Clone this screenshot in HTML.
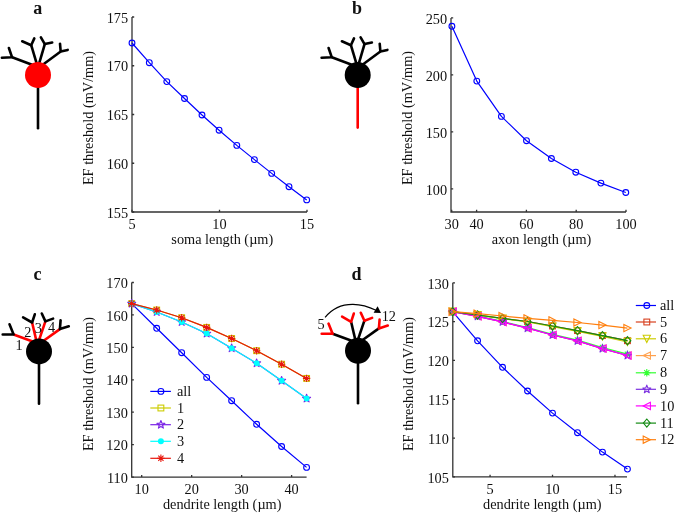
<!DOCTYPE html><html><head><meta charset="utf-8"><style>html,body{margin:0;padding:0;background:#fff}svg{display:block;will-change:transform}text{font-family:"Liberation Serif",serif;font-size:14.3px;fill:#111}.pl{font-weight:bold;font-size:18px}</style></head><body>
<svg width="675" height="514" viewBox="0 0 675 514">
<text class="pl" x="37.7" y="13.9" text-anchor="middle">a</text>
<text class="pl" x="356.9" y="13.9" text-anchor="middle">b</text>
<text class="pl" x="37.4" y="279.5" text-anchor="middle">c</text>
<text class="pl" x="356.6" y="279.5" text-anchor="middle">d</text>
<path d="M35.38 66.06L12.1 57.3" stroke="#000" stroke-width="2.6" stroke-linecap="butt"/>
<path d="M1.9 57.8L12.1 57.3L8.9 48" fill="none" stroke="#000" stroke-width="2.6" stroke-linejoin="round" stroke-linecap="round"/>
<path d="M37.84 67.29L31.2 45.2" stroke="#000" stroke-width="2.6" stroke-linecap="butt"/>
<path d="M22.2 41.3L31.2 45.2L34.3 38.4" fill="none" stroke="#000" stroke-width="2.6" stroke-linejoin="round" stroke-linecap="round"/>
<path d="M37.99 67.3L44.8 44.1" stroke="#000" stroke-width="2.6" stroke-linecap="butt"/>
<path d="M40.9 37.4L44.8 44.1L52.2 42.5" fill="none" stroke="#000" stroke-width="2.6" stroke-linejoin="round" stroke-linecap="round"/>
<path d="M40.37 66.46L60.7 51.5" stroke="#000" stroke-width="2.6" stroke-linecap="butt"/>
<path d="M67.7 49.9L60.7 51.5L60 43.7" fill="none" stroke="#000" stroke-width="2.6" stroke-linejoin="round" stroke-linecap="round"/>
<path d="M38 75V128.2" stroke="#000" stroke-width="2.6" stroke-linecap="round"/>
<circle cx="38" cy="75" r="13" fill="#f00"/>
<path d="M355.08 66.06L331.8 57.3" stroke="#000" stroke-width="2.6" stroke-linecap="butt"/>
<path d="M321.6 57.8L331.8 57.3L328.6 48" fill="none" stroke="#000" stroke-width="2.6" stroke-linejoin="round" stroke-linecap="round"/>
<path d="M357.54 67.29L350.9 45.2" stroke="#000" stroke-width="2.6" stroke-linecap="butt"/>
<path d="M341.9 41.3L350.9 45.2L354 38.4" fill="none" stroke="#000" stroke-width="2.6" stroke-linejoin="round" stroke-linecap="round"/>
<path d="M357.69 67.3L364.5 44.1" stroke="#000" stroke-width="2.6" stroke-linecap="butt"/>
<path d="M360.6 37.4L364.5 44.1L371.9 42.5" fill="none" stroke="#000" stroke-width="2.6" stroke-linejoin="round" stroke-linecap="round"/>
<path d="M360.07 66.46L380.4 51.5" stroke="#000" stroke-width="2.6" stroke-linecap="butt"/>
<path d="M387.4 49.9L380.4 51.5L379.7 43.7" fill="none" stroke="#000" stroke-width="2.6" stroke-linejoin="round" stroke-linecap="round"/>
<path d="M357.7 75V127.6" stroke="#f00" stroke-width="2.6" stroke-linecap="round"/>
<circle cx="357.7" cy="75" r="13" fill="#000"/>
<path d="M34 341.91L13.6 334.5" stroke="#f00" stroke-width="2.6" stroke-linecap="butt"/>
<path d="M2.7 334.5L13.6 334.5L9.5 324.3" fill="none" stroke="#000" stroke-width="2.6" stroke-linejoin="round" stroke-linecap="round"/>
<path d="M36.84 342.77L32.1 322.5" stroke="#f00" stroke-width="2.6" stroke-linecap="butt"/>
<path d="M23.1 317.4L32.1 322.5L34.8 314.3" fill="none" stroke="#000" stroke-width="2.6" stroke-linejoin="round" stroke-linecap="round"/>
<path d="M38.19 342.63L45.4 321.4" stroke="#f00" stroke-width="2.6" stroke-linecap="butt"/>
<path d="M41.8 313.5L45.4 321.4L53.1 318.6" fill="none" stroke="#000" stroke-width="2.6" stroke-linejoin="round" stroke-linecap="round"/>
<path d="M41.53 342.2L59.9 329.1" stroke="#f00" stroke-width="2.6" stroke-linecap="butt"/>
<path d="M68.8 326.3L59.9 329.1L60.6 320.2" fill="none" stroke="#000" stroke-width="2.6" stroke-linejoin="round" stroke-linecap="round"/>
<path d="M39 351.4V403.8" stroke="#000" stroke-width="2.6" stroke-linecap="round"/>
<circle cx="39" cy="351.4" r="13" fill="#000"/>
<path d="M353 341.21L332.6 333.8" stroke="#000" stroke-width="2.6" stroke-linecap="butt"/>
<path d="M321.7 333.8L332.6 333.8L328.5 323.6" fill="none" stroke="#f00" stroke-width="2.6" stroke-linejoin="round" stroke-linecap="round"/>
<path d="M355.84 342.07L351.1 321.8" stroke="#000" stroke-width="2.6" stroke-linecap="butt"/>
<path d="M342.1 316.7L351.1 321.8L353.8 313.6" fill="none" stroke="#f00" stroke-width="2.6" stroke-linejoin="round" stroke-linecap="round"/>
<path d="M357.19 341.93L364.4 320.7" stroke="#000" stroke-width="2.6" stroke-linecap="butt"/>
<path d="M360.8 312.8L364.4 320.7L372.1 317.9" fill="none" stroke="#f00" stroke-width="2.6" stroke-linejoin="round" stroke-linecap="round"/>
<path d="M360.53 341.5L378.9 328.4" stroke="#000" stroke-width="2.6" stroke-linecap="butt"/>
<path d="M387.8 325.6L378.9 328.4L379.6 319.5" fill="none" stroke="#f00" stroke-width="2.6" stroke-linejoin="round" stroke-linecap="round"/>
<path d="M358 350.7V403.3" stroke="#000" stroke-width="2.6" stroke-linecap="round"/>
<circle cx="358" cy="350.7" r="13" fill="#000"/>
<path d="M132 17V212H307" fill="none" stroke="#333" stroke-width="1.3"/>
<path d="M132 212v-2.2M219.5 212v-2.2M307 212v-2.2M132 212h2.2M132 163.25h2.2M132 114.5h2.2M132 65.75h2.2M132 17h2.2" stroke="#333" stroke-width="1.3"/>
<text x="132" y="229.2" text-anchor="middle">5</text>
<text x="219.5" y="229.2" text-anchor="middle">10</text>
<text x="307" y="229.2" text-anchor="middle">15</text>
<text x="128.1" y="217.7" text-anchor="end">155</text>
<text x="128.1" y="168.95" text-anchor="end">160</text>
<text x="128.1" y="120.2" text-anchor="end">165</text>
<text x="128.1" y="71.45" text-anchor="end">170</text>
<text x="128.1" y="22.7" text-anchor="end">175</text>
<text x="222.3" y="243.8" text-anchor="middle">soma length (µm)</text>
<text transform="translate(93.2 118) rotate(-90)" text-anchor="middle">EF threshold (mV/mm)</text>
<path d="M132 43 L149.3 62.7 L166.8 81.6 L184.5 98.5 L202 115 L219.1 130.2 L236.8 145.4 L254.4 159.6 L271.7 173.4 L289 186.7 L306.7 199.9" fill="none" stroke="#0000ff" stroke-width="1.2" stroke-linejoin="round"/>
<circle cx="132" cy="43" r="2.9" fill="none" stroke="#0000ff" stroke-width="1.1"/>
<circle cx="149.3" cy="62.7" r="2.9" fill="none" stroke="#0000ff" stroke-width="1.1"/>
<circle cx="166.8" cy="81.6" r="2.9" fill="none" stroke="#0000ff" stroke-width="1.1"/>
<circle cx="184.5" cy="98.5" r="2.9" fill="none" stroke="#0000ff" stroke-width="1.1"/>
<circle cx="202" cy="115" r="2.9" fill="none" stroke="#0000ff" stroke-width="1.1"/>
<circle cx="219.1" cy="130.2" r="2.9" fill="none" stroke="#0000ff" stroke-width="1.1"/>
<circle cx="236.8" cy="145.4" r="2.9" fill="none" stroke="#0000ff" stroke-width="1.1"/>
<circle cx="254.4" cy="159.6" r="2.9" fill="none" stroke="#0000ff" stroke-width="1.1"/>
<circle cx="271.7" cy="173.4" r="2.9" fill="none" stroke="#0000ff" stroke-width="1.1"/>
<circle cx="289" cy="186.7" r="2.9" fill="none" stroke="#0000ff" stroke-width="1.1"/>
<circle cx="306.7" cy="199.9" r="2.9" fill="none" stroke="#0000ff" stroke-width="1.1"/>
<path d="M451 17.9V212H626" fill="none" stroke="#333" stroke-width="1.3"/>
<path d="M451.7 212v-2.2M476.6 212v-2.2M526.4 212v-2.2M576.2 212v-2.2M626 212v-2.2M451 188.9h2.2M451 131.9h2.2M451 74.9h2.2M451 17.9h2.2" stroke="#333" stroke-width="1.3"/>
<text x="451.7" y="229.2" text-anchor="middle">30</text>
<text x="476.6" y="229.2" text-anchor="middle">40</text>
<text x="526.4" y="229.2" text-anchor="middle">60</text>
<text x="576.2" y="229.2" text-anchor="middle">80</text>
<text x="626" y="229.2" text-anchor="middle">100</text>
<text x="447.1" y="194.6" text-anchor="end">100</text>
<text x="447.1" y="137.6" text-anchor="end">150</text>
<text x="447.1" y="80.6" text-anchor="end">200</text>
<text x="447.1" y="23.6" text-anchor="end">250</text>
<text x="541.5" y="243.8" text-anchor="middle">axon length (µm)</text>
<text transform="translate(412.3 118) rotate(-90)" text-anchor="middle">EF threshold (mV/mm)</text>
<path d="M451.9 26.3 L476.8 81.1 L501.4 116.4 L526.5 140.7 L551.4 158.5 L575.8 172.2 L600.9 183.1 L625.8 192.5" fill="none" stroke="#0000ff" stroke-width="1.2" stroke-linejoin="round"/>
<circle cx="451.9" cy="26.3" r="2.9" fill="none" stroke="#0000ff" stroke-width="1.1"/>
<circle cx="476.8" cy="81.1" r="2.9" fill="none" stroke="#0000ff" stroke-width="1.1"/>
<circle cx="501.4" cy="116.4" r="2.9" fill="none" stroke="#0000ff" stroke-width="1.1"/>
<circle cx="526.5" cy="140.7" r="2.9" fill="none" stroke="#0000ff" stroke-width="1.1"/>
<circle cx="551.4" cy="158.5" r="2.9" fill="none" stroke="#0000ff" stroke-width="1.1"/>
<circle cx="575.8" cy="172.2" r="2.9" fill="none" stroke="#0000ff" stroke-width="1.1"/>
<circle cx="600.9" cy="183.1" r="2.9" fill="none" stroke="#0000ff" stroke-width="1.1"/>
<circle cx="625.8" cy="192.5" r="2.9" fill="none" stroke="#0000ff" stroke-width="1.1"/>
<path d="M131.7 282.5V477.1H306.6" fill="none" stroke="#333" stroke-width="1.3"/>
<path d="M141.69 477.1v-2.2M191.66 477.1v-2.2M241.63 477.1v-2.2M291.6 477.1v-2.2M131.7 477.08h2.2M131.7 444.65h2.2M131.7 412.22h2.2M131.7 379.79h2.2M131.7 347.36h2.2M131.7 314.93h2.2M131.7 282.5h2.2" stroke="#333" stroke-width="1.3"/>
<text x="141.69" y="494.3" text-anchor="middle">10</text>
<text x="191.66" y="494.3" text-anchor="middle">20</text>
<text x="241.63" y="494.3" text-anchor="middle">30</text>
<text x="291.6" y="494.3" text-anchor="middle">40</text>
<text x="127.8" y="482.78" text-anchor="end">110</text>
<text x="127.8" y="450.35" text-anchor="end">120</text>
<text x="127.8" y="417.92" text-anchor="end">130</text>
<text x="127.8" y="385.49" text-anchor="end">140</text>
<text x="127.8" y="353.06" text-anchor="end">150</text>
<text x="127.8" y="320.63" text-anchor="end">160</text>
<text x="127.8" y="288.2" text-anchor="end">170</text>
<text x="222.2" y="509.2" text-anchor="middle">dendrite length (µm)</text>
<text transform="translate(93.2 384) rotate(-90)" text-anchor="middle">EF threshold (mV/mm)</text>
<path d="M131.7 303.6 L156.69 328.3 L181.67 352.7 L206.65 377.4 L231.64 400.7 L256.62 424.3 L281.61 446.5 L306.59 467.4" fill="none" stroke="#0000ff" stroke-width="1.2" stroke-linejoin="round"/>
<circle cx="131.7" cy="303.6" r="2.9" fill="none" stroke="#0000ff" stroke-width="1.1"/>
<circle cx="156.69" cy="328.3" r="2.9" fill="none" stroke="#0000ff" stroke-width="1.1"/>
<circle cx="181.67" cy="352.7" r="2.9" fill="none" stroke="#0000ff" stroke-width="1.1"/>
<circle cx="206.65" cy="377.4" r="2.9" fill="none" stroke="#0000ff" stroke-width="1.1"/>
<circle cx="231.64" cy="400.7" r="2.9" fill="none" stroke="#0000ff" stroke-width="1.1"/>
<circle cx="256.62" cy="424.3" r="2.9" fill="none" stroke="#0000ff" stroke-width="1.1"/>
<circle cx="281.61" cy="446.5" r="2.9" fill="none" stroke="#0000ff" stroke-width="1.1"/>
<circle cx="306.59" cy="467.4" r="2.9" fill="none" stroke="#0000ff" stroke-width="1.1"/>
<path d="M131.7 303.6 L156.69 310 L181.67 317.7 L206.65 327.4 L231.64 338.5 L256.62 350.7 L281.61 364.2 L306.59 378.4" fill="none" stroke="#cccc00" stroke-width="1.2" stroke-linejoin="round"/>
<rect x="128.8" y="300.7" width="5.8" height="5.8" fill="none" stroke="#cccc00" stroke-width="1.1"/>
<rect x="153.78" y="307.1" width="5.8" height="5.8" fill="none" stroke="#cccc00" stroke-width="1.1"/>
<rect x="178.77" y="314.8" width="5.8" height="5.8" fill="none" stroke="#cccc00" stroke-width="1.1"/>
<rect x="203.75" y="324.5" width="5.8" height="5.8" fill="none" stroke="#cccc00" stroke-width="1.1"/>
<rect x="228.74" y="335.6" width="5.8" height="5.8" fill="none" stroke="#cccc00" stroke-width="1.1"/>
<rect x="253.72" y="347.8" width="5.8" height="5.8" fill="none" stroke="#cccc00" stroke-width="1.1"/>
<rect x="278.71" y="361.3" width="5.8" height="5.8" fill="none" stroke="#cccc00" stroke-width="1.1"/>
<rect x="303.69" y="375.5" width="5.8" height="5.8" fill="none" stroke="#cccc00" stroke-width="1.1"/>
<path d="M131.7 303.6 L156.69 312 L181.67 322 L206.65 333.5 L231.64 348.2 L256.62 363.2 L281.61 380.7 L306.59 398.5" fill="none" stroke="#7a22e6" stroke-width="1.2" stroke-linejoin="round"/>
<polygon points="131.7,299.4 132.74,302.17 135.69,302.3 133.38,304.15 134.17,307 131.7,305.36 129.23,307 130.02,304.15 127.71,302.3 130.66,302.17" fill="none" stroke="#7a22e6" stroke-width="1.1" stroke-linejoin="round"/>
<polygon points="156.69,307.8 157.72,310.57 160.68,310.7 158.36,312.55 159.15,315.4 156.69,313.76 154.22,315.4 155.01,312.55 152.69,310.7 155.65,310.57" fill="none" stroke="#7a22e6" stroke-width="1.1" stroke-linejoin="round"/>
<polygon points="181.67,317.8 182.71,320.57 185.66,320.7 183.35,322.55 184.14,325.4 181.67,323.76 179.2,325.4 179.99,322.55 177.68,320.7 180.63,320.57" fill="none" stroke="#7a22e6" stroke-width="1.1" stroke-linejoin="round"/>
<polygon points="206.65,329.3 207.69,332.07 210.65,332.2 208.33,334.05 209.12,336.9 206.65,335.26 204.19,336.9 204.98,334.05 202.66,332.2 205.62,332.07" fill="none" stroke="#7a22e6" stroke-width="1.1" stroke-linejoin="round"/>
<polygon points="231.64,344 232.68,346.77 235.63,346.9 233.32,348.75 234.11,351.6 231.64,349.96 229.17,351.6 229.96,348.75 227.65,346.9 230.6,346.77" fill="none" stroke="#7a22e6" stroke-width="1.1" stroke-linejoin="round"/>
<polygon points="256.62,359 257.66,361.77 260.62,361.9 258.3,363.75 259.09,366.6 256.62,364.96 254.16,366.6 254.95,363.75 252.63,361.9 255.59,361.77" fill="none" stroke="#7a22e6" stroke-width="1.1" stroke-linejoin="round"/>
<polygon points="281.61,376.5 282.65,379.27 285.6,379.4 283.29,381.25 284.08,384.1 281.61,382.46 279.14,384.1 279.93,381.25 277.62,379.4 280.57,379.27" fill="none" stroke="#7a22e6" stroke-width="1.1" stroke-linejoin="round"/>
<polygon points="306.59,394.3 307.63,397.07 310.59,397.2 308.27,399.05 309.06,401.9 306.59,400.26 304.13,401.9 304.92,399.05 302.6,397.2 305.56,397.07" fill="none" stroke="#7a22e6" stroke-width="1.1" stroke-linejoin="round"/>
<path d="M131.7 303.6 L156.69 312 L181.67 322 L206.65 333.5 L231.64 348.2 L256.62 363.2 L281.61 380.7 L306.59 398.5" fill="none" stroke="#00ffff" stroke-width="1.2" stroke-linejoin="round"/>
<circle cx="131.7" cy="303.6" r="3" fill="#00ffff"/>
<circle cx="156.69" cy="312" r="3" fill="#00ffff"/>
<circle cx="181.67" cy="322" r="3" fill="#00ffff"/>
<circle cx="206.65" cy="333.5" r="3" fill="#00ffff"/>
<circle cx="231.64" cy="348.2" r="3" fill="#00ffff"/>
<circle cx="256.62" cy="363.2" r="3" fill="#00ffff"/>
<circle cx="281.61" cy="380.7" r="3" fill="#00ffff"/>
<circle cx="306.59" cy="398.5" r="3" fill="#00ffff"/>
<path d="M131.7 303.6 L156.69 310 L181.67 317.7 L206.65 327.4 L231.64 338.5 L256.62 350.7 L281.61 364.2 L306.59 378.4" fill="none" stroke="#e8160c" stroke-width="1.2" stroke-linejoin="round"/>
<path d="M128 303.6L135.4 303.6M129.08 300.98L134.32 306.22M131.7 299.9L131.7 307.3M134.32 300.98L129.08 306.22" stroke="#e8160c" stroke-width="1.1"/>
<path d="M152.99 310L160.38 310M154.07 307.38L159.3 312.62M156.69 306.3L156.69 313.7M159.3 307.38L154.07 312.62" stroke="#e8160c" stroke-width="1.1"/>
<path d="M177.97 317.7L185.37 317.7M179.05 315.08L184.29 320.32M181.67 314L181.67 321.4M184.29 315.08L179.05 320.32" stroke="#e8160c" stroke-width="1.1"/>
<path d="M202.95 327.4L210.35 327.4M204.04 324.78L209.27 330.02M206.65 323.7L206.65 331.1M209.27 324.78L204.04 330.02" stroke="#e8160c" stroke-width="1.1"/>
<path d="M227.94 338.5L235.34 338.5M229.02 335.88L234.26 341.12M231.64 334.8L231.64 342.2M234.26 335.88L229.02 341.12" stroke="#e8160c" stroke-width="1.1"/>
<path d="M252.93 350.7L260.32 350.7M254.01 348.08L259.24 353.32M256.62 347L256.62 354.4M259.24 348.08L254.01 353.32" stroke="#e8160c" stroke-width="1.1"/>
<path d="M277.91 364.2L285.31 364.2M278.99 361.58L284.23 366.82M281.61 360.5L281.61 367.9M284.23 361.58L278.99 366.82" stroke="#e8160c" stroke-width="1.1"/>
<path d="M302.89 378.4L310.29 378.4M303.98 375.78L309.21 381.02M306.59 374.7L306.59 382.1M309.21 375.78L303.98 381.02" stroke="#e8160c" stroke-width="1.1"/>
<path d="M150.3 391.4H170.9" stroke="#0000ff" stroke-width="1.2"/>
<circle cx="160.9" cy="391.4" r="2.9" fill="none" stroke="#0000ff" stroke-width="1.1"/>
<text x="176.9" y="396">all</text>
<path d="M150.3 408H170.9" stroke="#cccc00" stroke-width="1.2"/>
<rect x="158" y="405.1" width="5.8" height="5.8" fill="none" stroke="#cccc00" stroke-width="1.1"/>
<text x="176.9" y="412.6">1</text>
<path d="M150.3 424.7H170.9" stroke="#7a22e6" stroke-width="1.2"/>
<polygon points="160.9,420.5 161.94,423.27 164.89,423.4 162.58,425.25 163.37,428.1 160.9,426.46 158.43,428.1 159.22,425.25 156.91,423.4 159.86,423.27" fill="none" stroke="#7a22e6" stroke-width="1.1" stroke-linejoin="round"/>
<text x="176.9" y="429.3">2</text>
<path d="M150.3 441.3H170.9" stroke="#00ffff" stroke-width="1.2"/>
<circle cx="160.9" cy="441.3" r="3" fill="#00ffff"/>
<text x="176.9" y="445.9">3</text>
<path d="M150.3 458.3H170.9" stroke="#e8160c" stroke-width="1.2"/>
<path d="M157.2 458.3L164.6 458.3M158.28 455.68L163.52 460.92M160.9 454.6L160.9 462M163.52 455.68L158.28 460.92" stroke="#e8160c" stroke-width="1.1"/>
<text x="176.9" y="462.9">4</text>
<path d="M452.8 282.8V476.9H627" fill="none" stroke="#333" stroke-width="1.3"/>
<path d="M490.07 476.9v-2.2M552.52 476.9v-2.2M614.97 476.9v-2.2M452.8 476.9h2.2M452.8 438.08h2.2M452.8 399.26h2.2M452.8 360.44h2.2M452.8 321.62h2.2M452.8 282.8h2.2" stroke="#333" stroke-width="1.3"/>
<text x="490.07" y="494.1" text-anchor="middle">5</text>
<text x="552.52" y="494.1" text-anchor="middle">10</text>
<text x="614.97" y="494.1" text-anchor="middle">15</text>
<text x="448.9" y="482.6" text-anchor="end">105</text>
<text x="448.9" y="443.78" text-anchor="end">110</text>
<text x="448.9" y="404.96" text-anchor="end">115</text>
<text x="448.9" y="366.14" text-anchor="end">120</text>
<text x="448.9" y="327.32" text-anchor="end">125</text>
<text x="448.9" y="288.5" text-anchor="end">130</text>
<text x="542.3" y="509.2" text-anchor="middle">dendrite length (µm)</text>
<text transform="translate(412.8 384) rotate(-90)" text-anchor="middle">EF threshold (mV/mm)</text>
<path d="M452.6 311.7 L477.58 340.8 L502.56 367.3 L527.54 391 L552.52 413.1 L577.5 432.7 L602.48 452.1 L627.46 469.1" fill="none" stroke="#0000ff" stroke-width="1.2" stroke-linejoin="round"/>
<circle cx="452.6" cy="311.7" r="2.9" fill="none" stroke="#0000ff" stroke-width="1.1"/>
<circle cx="477.58" cy="340.8" r="2.9" fill="none" stroke="#0000ff" stroke-width="1.1"/>
<circle cx="502.56" cy="367.3" r="2.9" fill="none" stroke="#0000ff" stroke-width="1.1"/>
<circle cx="527.54" cy="391" r="2.9" fill="none" stroke="#0000ff" stroke-width="1.1"/>
<circle cx="552.52" cy="413.1" r="2.9" fill="none" stroke="#0000ff" stroke-width="1.1"/>
<circle cx="577.5" cy="432.7" r="2.9" fill="none" stroke="#0000ff" stroke-width="1.1"/>
<circle cx="602.48" cy="452.1" r="2.9" fill="none" stroke="#0000ff" stroke-width="1.1"/>
<circle cx="627.46" cy="469.1" r="2.9" fill="none" stroke="#0000ff" stroke-width="1.1"/>
<path d="M452.6 311.7 L477.58 315 L502.56 318.4 L527.54 321.5 L552.52 326 L577.5 330.6 L602.48 335.6 L627.46 340.7" fill="none" stroke="#d8401f" stroke-width="1.2" stroke-linejoin="round"/>
<rect x="449.7" y="308.8" width="5.8" height="5.8" fill="none" stroke="#d8401f" stroke-width="1.1"/>
<rect x="474.68" y="312.1" width="5.8" height="5.8" fill="none" stroke="#d8401f" stroke-width="1.1"/>
<rect x="499.66" y="315.5" width="5.8" height="5.8" fill="none" stroke="#d8401f" stroke-width="1.1"/>
<rect x="524.64" y="318.6" width="5.8" height="5.8" fill="none" stroke="#d8401f" stroke-width="1.1"/>
<rect x="549.62" y="323.1" width="5.8" height="5.8" fill="none" stroke="#d8401f" stroke-width="1.1"/>
<rect x="574.6" y="327.7" width="5.8" height="5.8" fill="none" stroke="#d8401f" stroke-width="1.1"/>
<rect x="599.58" y="332.7" width="5.8" height="5.8" fill="none" stroke="#d8401f" stroke-width="1.1"/>
<rect x="624.56" y="337.8" width="5.8" height="5.8" fill="none" stroke="#d8401f" stroke-width="1.1"/>
<path d="M452.6 311.7 L477.58 315.1 L502.56 318.7 L527.54 322 L552.52 326.6 L577.5 331.3 L602.48 336.5 L627.46 342" fill="none" stroke="#cccc00" stroke-width="1.2" stroke-linejoin="round"/>
<polygon points="449,308.1 456.2,308.1 452.6,315.3" fill="none" stroke="#cccc00" stroke-width="1.1"/>
<polygon points="473.98,311.5 481.18,311.5 477.58,318.7" fill="none" stroke="#cccc00" stroke-width="1.1"/>
<polygon points="498.96,315.1 506.16,315.1 502.56,322.3" fill="none" stroke="#cccc00" stroke-width="1.1"/>
<polygon points="523.94,318.4 531.14,318.4 527.54,325.6" fill="none" stroke="#cccc00" stroke-width="1.1"/>
<polygon points="548.92,323 556.12,323 552.52,330.2" fill="none" stroke="#cccc00" stroke-width="1.1"/>
<polygon points="573.9,327.7 581.1,327.7 577.5,334.9" fill="none" stroke="#cccc00" stroke-width="1.1"/>
<polygon points="598.88,332.9 606.08,332.9 602.48,340.1" fill="none" stroke="#cccc00" stroke-width="1.1"/>
<polygon points="623.86,338.4 631.06,338.4 627.46,345.6" fill="none" stroke="#cccc00" stroke-width="1.1"/>
<path d="M452.6 311.7 L477.58 316.3 L502.56 321.9 L527.54 328.2 L552.52 335 L577.5 340.9 L602.48 348.6 L627.46 355.5" fill="none" stroke="#ffa04d" stroke-width="1.2" stroke-linejoin="round"/>
<polygon points="456.2,308.1 449,311.7 456.2,315.3" fill="none" stroke="#ffa04d" stroke-width="1.1"/>
<polygon points="481.18,312.7 473.98,316.3 481.18,319.9" fill="none" stroke="#ffa04d" stroke-width="1.1"/>
<polygon points="506.16,318.3 498.96,321.9 506.16,325.5" fill="none" stroke="#ffa04d" stroke-width="1.1"/>
<polygon points="531.14,324.6 523.94,328.2 531.14,331.8" fill="none" stroke="#ffa04d" stroke-width="1.1"/>
<polygon points="556.12,331.4 548.92,335 556.12,338.6" fill="none" stroke="#ffa04d" stroke-width="1.1"/>
<polygon points="581.1,337.3 573.9,340.9 581.1,344.5" fill="none" stroke="#ffa04d" stroke-width="1.1"/>
<polygon points="606.08,345 598.88,348.6 606.08,352.2" fill="none" stroke="#ffa04d" stroke-width="1.1"/>
<polygon points="631.06,351.9 623.86,355.5 631.06,359.1" fill="none" stroke="#ffa04d" stroke-width="1.1"/>
<path d="M452.6 311.7 L477.58 316 L502.56 321.4 L527.54 327.6 L552.52 334.3 L577.5 340 L602.48 347.5 L627.46 354.2" fill="none" stroke="#33ff33" stroke-width="1.2" stroke-linejoin="round"/>
<path d="M448.9 311.7L456.3 311.7M449.98 309.08L455.22 314.32M452.6 308L452.6 315.4M455.22 309.08L449.98 314.32" stroke="#33ff33" stroke-width="1.1"/>
<path d="M473.88 316L481.28 316M474.96 313.38L480.2 318.62M477.58 312.3L477.58 319.7M480.2 313.38L474.96 318.62" stroke="#33ff33" stroke-width="1.1"/>
<path d="M498.86 321.4L506.26 321.4M499.94 318.78L505.18 324.02M502.56 317.7L502.56 325.1M505.18 318.78L499.94 324.02" stroke="#33ff33" stroke-width="1.1"/>
<path d="M523.84 327.6L531.24 327.6M524.92 324.98L530.16 330.22M527.54 323.9L527.54 331.3M530.16 324.98L524.92 330.22" stroke="#33ff33" stroke-width="1.1"/>
<path d="M548.82 334.3L556.22 334.3M549.9 331.68L555.14 336.92M552.52 330.6L552.52 338M555.14 331.68L549.9 336.92" stroke="#33ff33" stroke-width="1.1"/>
<path d="M573.8 340L581.2 340M574.88 337.38L580.12 342.62M577.5 336.3L577.5 343.7M580.12 337.38L574.88 342.62" stroke="#33ff33" stroke-width="1.1"/>
<path d="M598.78 347.5L606.18 347.5M599.86 344.88L605.1 350.12M602.48 343.8L602.48 351.2M605.1 344.88L599.86 350.12" stroke="#33ff33" stroke-width="1.1"/>
<path d="M623.76 354.2L631.16 354.2M624.84 351.58L630.08 356.82M627.46 350.5L627.46 357.9M630.08 351.58L624.84 356.82" stroke="#33ff33" stroke-width="1.1"/>
<path d="M452.6 311.7 L477.58 316.3 L502.56 321.9 L527.54 328.2 L552.52 335 L577.5 340.9 L602.48 348.6 L627.46 355.5" fill="none" stroke="#7b2fe0" stroke-width="1.2" stroke-linejoin="round"/>
<polygon points="452.6,307.5 453.64,310.27 456.59,310.4 454.28,312.25 455.07,315.1 452.6,313.46 450.13,315.1 450.92,312.25 448.61,310.4 451.56,310.27" fill="none" stroke="#7b2fe0" stroke-width="1.1" stroke-linejoin="round"/>
<polygon points="477.58,312.1 478.62,314.87 481.57,315 479.26,316.85 480.05,319.7 477.58,318.06 475.11,319.7 475.9,316.85 473.59,315 476.54,314.87" fill="none" stroke="#7b2fe0" stroke-width="1.1" stroke-linejoin="round"/>
<polygon points="502.56,317.7 503.6,320.47 506.55,320.6 504.24,322.45 505.03,325.3 502.56,323.66 500.09,325.3 500.88,322.45 498.57,320.6 501.52,320.47" fill="none" stroke="#7b2fe0" stroke-width="1.1" stroke-linejoin="round"/>
<polygon points="527.54,324 528.58,326.77 531.53,326.9 529.22,328.75 530.01,331.6 527.54,329.96 525.07,331.6 525.86,328.75 523.55,326.9 526.5,326.77" fill="none" stroke="#7b2fe0" stroke-width="1.1" stroke-linejoin="round"/>
<polygon points="552.52,330.8 553.56,333.57 556.51,333.7 554.2,335.55 554.99,338.4 552.52,336.76 550.05,338.4 550.84,335.55 548.53,333.7 551.48,333.57" fill="none" stroke="#7b2fe0" stroke-width="1.1" stroke-linejoin="round"/>
<polygon points="577.5,336.7 578.54,339.47 581.49,339.6 579.18,341.45 579.97,344.3 577.5,342.66 575.03,344.3 575.82,341.45 573.51,339.6 576.46,339.47" fill="none" stroke="#7b2fe0" stroke-width="1.1" stroke-linejoin="round"/>
<polygon points="602.48,344.4 603.52,347.17 606.47,347.3 604.16,349.15 604.95,352 602.48,350.36 600.01,352 600.8,349.15 598.49,347.3 601.44,347.17" fill="none" stroke="#7b2fe0" stroke-width="1.1" stroke-linejoin="round"/>
<polygon points="627.46,351.3 628.5,354.07 631.45,354.2 629.14,356.05 629.93,358.9 627.46,357.26 624.99,358.9 625.78,356.05 623.47,354.2 626.42,354.07" fill="none" stroke="#7b2fe0" stroke-width="1.1" stroke-linejoin="round"/>
<path d="M452.6 311.7 L477.58 316.3 L502.56 321.9 L527.54 328.2 L552.52 335 L577.5 340.9 L602.48 348.6 L627.46 355.5" fill="none" stroke="#ff00ff" stroke-width="1.2" stroke-linejoin="round"/>
<polygon points="456.2,308.1 449,311.7 456.2,315.3" fill="none" stroke="#ff00ff" stroke-width="1.1"/>
<polygon points="481.18,312.7 473.98,316.3 481.18,319.9" fill="none" stroke="#ff00ff" stroke-width="1.1"/>
<polygon points="506.16,318.3 498.96,321.9 506.16,325.5" fill="none" stroke="#ff00ff" stroke-width="1.1"/>
<polygon points="531.14,324.6 523.94,328.2 531.14,331.8" fill="none" stroke="#ff00ff" stroke-width="1.1"/>
<polygon points="556.12,331.4 548.92,335 556.12,338.6" fill="none" stroke="#ff00ff" stroke-width="1.1"/>
<polygon points="581.1,337.3 573.9,340.9 581.1,344.5" fill="none" stroke="#ff00ff" stroke-width="1.1"/>
<polygon points="606.08,345 598.88,348.6 606.08,352.2" fill="none" stroke="#ff00ff" stroke-width="1.1"/>
<polygon points="631.06,351.9 623.86,355.5 631.06,359.1" fill="none" stroke="#ff00ff" stroke-width="1.1"/>
<path d="M452.6 311.7 L477.58 315 L502.56 318.4 L527.54 321.5 L552.52 326 L577.5 330.6 L602.48 335.6 L627.46 340.7" fill="none" stroke="#138a13" stroke-width="1.2" stroke-linejoin="round"/>
<polygon points="452.6,307.6 456,311.7 452.6,315.8 449.2,311.7" fill="none" stroke="#138a13" stroke-width="1.1"/>
<polygon points="477.58,310.9 480.98,315 477.58,319.1 474.18,315" fill="none" stroke="#138a13" stroke-width="1.1"/>
<polygon points="502.56,314.3 505.96,318.4 502.56,322.5 499.16,318.4" fill="none" stroke="#138a13" stroke-width="1.1"/>
<polygon points="527.54,317.4 530.94,321.5 527.54,325.6 524.14,321.5" fill="none" stroke="#138a13" stroke-width="1.1"/>
<polygon points="552.52,321.9 555.92,326 552.52,330.1 549.12,326" fill="none" stroke="#138a13" stroke-width="1.1"/>
<polygon points="577.5,326.5 580.9,330.6 577.5,334.7 574.1,330.6" fill="none" stroke="#138a13" stroke-width="1.1"/>
<polygon points="602.48,331.5 605.88,335.6 602.48,339.7 599.08,335.6" fill="none" stroke="#138a13" stroke-width="1.1"/>
<polygon points="627.46,336.6 630.86,340.7 627.46,344.8 624.06,340.7" fill="none" stroke="#138a13" stroke-width="1.1"/>
<path d="M452.6 311.7 L477.58 313.7 L502.56 316 L527.54 318.4 L552.52 320.4 L577.5 322.5 L602.48 325.1 L627.46 328.1" fill="none" stroke="#ff7f0e" stroke-width="1.2" stroke-linejoin="round"/>
<polygon points="449,308.1 456.2,311.7 449,315.3" fill="none" stroke="#ff7f0e" stroke-width="1.1"/>
<polygon points="473.98,310.1 481.18,313.7 473.98,317.3" fill="none" stroke="#ff7f0e" stroke-width="1.1"/>
<polygon points="498.96,312.4 506.16,316 498.96,319.6" fill="none" stroke="#ff7f0e" stroke-width="1.1"/>
<polygon points="523.94,314.8 531.14,318.4 523.94,322" fill="none" stroke="#ff7f0e" stroke-width="1.1"/>
<polygon points="548.92,316.8 556.12,320.4 548.92,324" fill="none" stroke="#ff7f0e" stroke-width="1.1"/>
<polygon points="573.9,318.9 581.1,322.5 573.9,326.1" fill="none" stroke="#ff7f0e" stroke-width="1.1"/>
<polygon points="598.88,321.5 606.08,325.1 598.88,328.7" fill="none" stroke="#ff7f0e" stroke-width="1.1"/>
<polygon points="623.86,324.5 631.06,328.1 623.86,331.7" fill="none" stroke="#ff7f0e" stroke-width="1.1"/>
<path d="M635.8 305.5H656" stroke="#0000ff" stroke-width="1.2"/>
<circle cx="646.8" cy="305.5" r="2.9" fill="none" stroke="#0000ff" stroke-width="1.1"/>
<text x="660" y="310.1">all</text>
<path d="M635.8 322H656" stroke="#d8401f" stroke-width="1.2"/>
<rect x="643.9" y="319.1" width="5.8" height="5.8" fill="none" stroke="#d8401f" stroke-width="1.1"/>
<text x="660" y="326.6">5</text>
<path d="M635.8 338.8H656" stroke="#cccc00" stroke-width="1.2"/>
<polygon points="643.2,335.2 650.4,335.2 646.8,342.4" fill="none" stroke="#cccc00" stroke-width="1.1"/>
<text x="660" y="343.4">6</text>
<path d="M635.8 355.6H656" stroke="#ffa04d" stroke-width="1.2"/>
<polygon points="650.4,352 643.2,355.6 650.4,359.2" fill="none" stroke="#ffa04d" stroke-width="1.1"/>
<text x="660" y="360.2">7</text>
<path d="M635.8 372.8H656" stroke="#33ff33" stroke-width="1.2"/>
<path d="M643.1 372.8L650.5 372.8M644.18 370.18L649.42 375.42M646.8 369.1L646.8 376.5M649.42 370.18L644.18 375.42" stroke="#33ff33" stroke-width="1.1"/>
<text x="660" y="377.4">8</text>
<path d="M635.8 389.3H656" stroke="#7b2fe0" stroke-width="1.2"/>
<polygon points="646.8,385.1 647.84,387.87 650.79,388 648.48,389.85 649.27,392.7 646.8,391.06 644.33,392.7 645.12,389.85 642.81,388 645.76,387.87" fill="none" stroke="#7b2fe0" stroke-width="1.1" stroke-linejoin="round"/>
<text x="660" y="393.9">9</text>
<path d="M635.8 405.9H656" stroke="#ff00ff" stroke-width="1.2"/>
<polygon points="650.4,402.3 643.2,405.9 650.4,409.5" fill="none" stroke="#ff00ff" stroke-width="1.1"/>
<text x="660" y="410.5">10</text>
<path d="M635.8 423.1H656" stroke="#138a13" stroke-width="1.2"/>
<polygon points="646.8,419 650.2,423.1 646.8,427.2 643.4,423.1" fill="none" stroke="#138a13" stroke-width="1.1"/>
<text x="660" y="427.7">11</text>
<path d="M635.8 439.7H656" stroke="#ff7f0e" stroke-width="1.2"/>
<polygon points="643.2,436.1 650.4,439.7 643.2,443.3" fill="none" stroke="#ff7f0e" stroke-width="1.1"/>
<text x="660" y="444.3">12</text>
<text x="19.1" y="350.4" text-anchor="middle">1</text>
<text x="27.8" y="336.5" text-anchor="middle">2</text>
<text x="38.3" y="333.2" text-anchor="middle">3</text>
<text x="51.7" y="332.3" text-anchor="middle">4</text>
<path d="M325.1 317.3C333 307.5 344 304.2 353 304.3C362 304.4 369.5 307 376 310.3" fill="none" stroke="#000" stroke-width="1.2"/>
<polygon points="381,313 373.6,312.8 377.6,306.2" fill="#000"/>
<text x="321" y="328.9" text-anchor="middle">5</text>
<text x="388.8" y="321.3" text-anchor="middle">12</text>
</svg></body></html>
